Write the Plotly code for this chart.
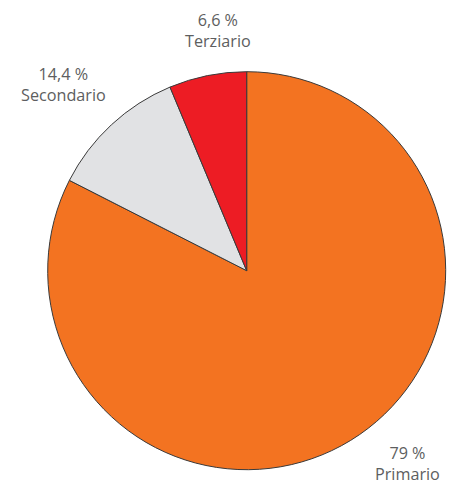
import plotly.graph_objects as go

labels = ["Primario", "Secondario", "Terziario"]
# shares as printed on the labels
label_values = ["79 %", "14,4 %", "6,6 %"]
slice_values = [82.5, 11.2, 6.3]
colors = ["#F37321", "#E1E2E4", "#ED1C24"]

W, H = 454, 485
cx, cy, r = 246.7, 270.7, 199
fig = go.Figure(go.Pie(
    labels=labels, values=slice_values, sort=False, direction="clockwise", rotation=0,
    marker=dict(colors=colors, line=dict(color="#3a3a3a", width=1)),
    textinfo="none", hoverinfo="label", showlegend=False,
    domain=dict(x=[(cx - r) / W, (cx + r) / W], y=[1 - (cy + r) / H, 1 - (cy - r) / H]),
))

label_pos = {"Primario": (407, 463), "Secondario": (63, 84), "Terziario": (218, 30)}
for lab, vt in zip(labels, label_values):
    px, py = label_pos[lab]
    fig.add_annotation(x=px / W, y=1 - py / H, xref="paper", yref="paper",
                       text=f"{vt}<br>{lab}", showarrow=False,
                       font=dict(family="Open Sans, sans-serif", size=16.2, color="#5d5e60"),
                       align="center", xanchor="center", yanchor="middle", borderpad=0)

fig.update_layout(width=W, height=H, margin=dict(l=0, r=0, t=0, b=0),
                  paper_bgcolor="white", plot_bgcolor="white")
fig.write_html("out.html", config={"displayModeBar": False},
               post_script="document.body.style.margin='0';document.body.style.overflow='hidden';")
